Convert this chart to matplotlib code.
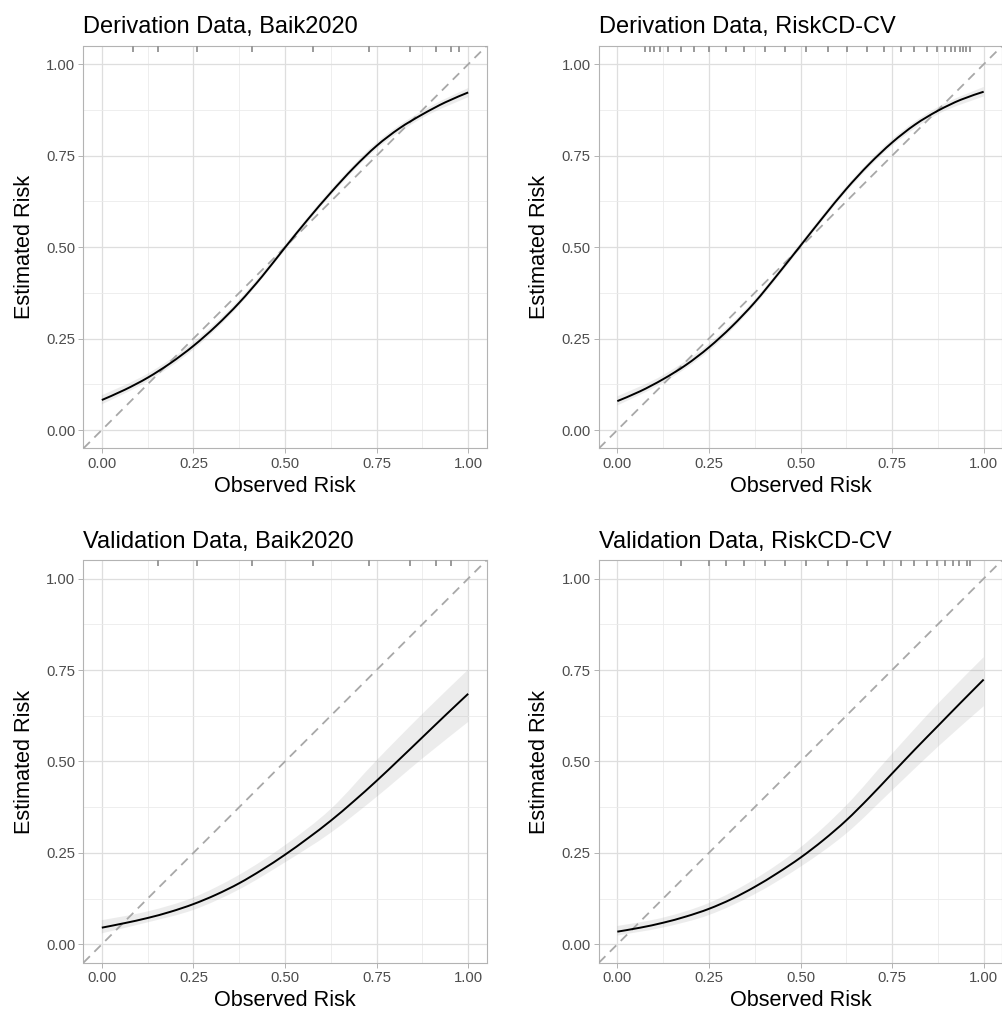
import matplotlib
matplotlib.use("Agg")
import matplotlib.pyplot as plt
import numpy as np
from matplotlib.ticker import MultipleLocator
from matplotlib.path import Path
from matplotlib.patches import PathPatch

plt.rcParams['font.family'] = ['Liberation Sans', 'DejaVu Sans']

titles = ["Derivation Data, Baik2020", "Derivation Data, RiskCD-CV",
          "Validation Data, Baik2020", "Validation Data, RiskCD-CV"]

# curve sampled at x = 0, 1/16, ..., 1
x_curve = [0.0, 0.0625, 0.125, 0.1875, 0.25, 0.3125, 0.375, 0.4375, 0.5,
           0.5625, 0.625, 0.6875, 0.75, 0.8125, 0.875, 0.9375, 1.0]
curve_dl = [0.082, 0.110, 0.143, 0.183, 0.230, 0.285, 0.348, 0.420, 0.499,
            0.576, 0.649, 0.717, 0.777, 0.825, 0.863, 0.896, 0.923]
curve_dr = [0.079, 0.106, 0.139, 0.178, 0.226, 0.283, 0.349, 0.425, 0.504,
            0.583, 0.659, 0.727, 0.786, 0.835, 0.873, 0.903, 0.925]
curve_vl = [0.0455, 0.058, 0.072, 0.089, 0.110, 0.136, 0.167, 0.204, 0.245,
            0.290, 0.338, 0.391, 0.447, 0.506, 0.566, 0.626, 0.685]
curve_vr = [0.0346, 0.0455, 0.059, 0.076, 0.097, 0.124, 0.157, 0.195, 0.237,
            0.285, 0.339, 0.401, 0.467, 0.533, 0.597, 0.661, 0.724]

# confidence band sampled at x = 0, 1/8, ..., 1
x_band = [0.0, 0.125, 0.25, 0.375, 0.5, 0.625, 0.75, 0.875, 1.0]
lo_dl = [0.070, 0.133, 0.220, 0.340, 0.491, 0.641, 0.768, 0.853, 0.910]
hi_dl = [0.095, 0.154, 0.240, 0.357, 0.507, 0.657, 0.786, 0.873, 0.935]
lo_dr = [0.067, 0.129, 0.216, 0.341, 0.496, 0.651, 0.777, 0.863, 0.912]
hi_dr = [0.092, 0.150, 0.236, 0.357, 0.512, 0.667, 0.795, 0.883, 0.938]
lo_vl = [0.030, 0.060, 0.094, 0.150, 0.224, 0.305, 0.403, 0.508, 0.608]
hi_vl = [0.066, 0.090, 0.128, 0.190, 0.271, 0.370, 0.503, 0.630, 0.751]
lo_vr = [0.024, 0.046, 0.080, 0.137, 0.212, 0.303, 0.421, 0.540, 0.651]
hi_vr = [0.050, 0.073, 0.113, 0.178, 0.265, 0.380, 0.521, 0.658, 0.785]

# rug positions (predicted risk values)
rug_baik_der = [0.084, 0.153, 0.259, 0.409, 0.577, 0.730, 0.841, 0.912, 0.952, 0.975]
rug_risk_der = [0.076, 0.089, 0.101, 0.117, 0.139, 0.173, 0.209, 0.250, 0.296,
                0.346, 0.402, 0.458, 0.515, 0.574, 0.628, 0.681, 0.729, 0.773,
                0.811, 0.845, 0.873, 0.895, 0.912, 0.923, 0.935, 0.944, 0.953, 0.964]
rug_baik_val = [0.153, 0.259, 0.409, 0.577, 0.730, 0.841, 0.912, 0.952]
rug_risk_val = [0.173, 0.250, 0.296, 0.346, 0.402, 0.458, 0.515, 0.574, 0.628,
                0.681, 0.729, 0.773, 0.811, 0.845, 0.873, 0.895, 0.916, 0.932,
                0.955, 0.964]

tick_vals = [0.0, 0.25, 0.5, 0.75, 1.0]
tick_labels = ["0.00", "0.25", "0.50", "0.75", "1.00"]

panels = [
    (curve_dl, lo_dl, hi_dl, rug_baik_der),
    (curve_dr, lo_dr, hi_dr, rug_risk_der),
    (curve_vl, lo_vl, hi_vl, rug_baik_val),
    (curve_vr, lo_vr, hi_vr, rug_risk_val),
]


def bezier_pieces(xs, ys):
    """Catmull-Rom curve through the data points, as cubic Bezier segments."""
    P = np.column_stack([xs, ys]).astype(float)
    n = len(P)
    verts = [P[0]]
    for k in range(n - 1):
        p0 = P[max(k - 1, 0)]
        p1 = P[k]
        p2 = P[k + 1]
        p3 = P[min(k + 2, n - 1)]
        verts += [p1 + (p2 - p0) / 6.0, p2 - (p3 - p1) / 6.0, p2]
    return verts


def smooth_path(xs, ys):
    verts = bezier_pieces(xs, ys)
    codes = [Path.MOVETO] + [Path.CURVE4] * (len(verts) - 1)
    return Path(verts, codes)


def band_path(xs, lo, hi):
    up = bezier_pieces(xs, hi)
    dn = bezier_pieces(xs[::-1], lo[::-1])
    verts = up + dn + [up[0]]
    codes = ([Path.MOVETO] + [Path.CURVE4] * (len(up) - 1) +
             [Path.LINETO] + [Path.CURVE4] * (len(dn) - 1) + [Path.CLOSEPOLY])
    return Path(verts, codes)


W, H = 1003, 1017
fig = plt.figure(figsize=(W / 100, H / 100), dpi=100)

lefts = [83.5, 599.0]
tops = [46.0, 560.3]
aw, ah = 403.0, 402.3

for i, (cur, lo, hi, rug) in enumerate(panels):
    col = i % 2
    row = i // 2
    ax = fig.add_axes([lefts[col] / W, 1 - (tops[row] + ah) / H, aw / W, ah / H])
    ax.set_xlim(-0.05, 1.05)
    ax.set_ylim(-0.05, 1.05)
    ax.set_facecolor('white')
    ax.xaxis.set_minor_locator(MultipleLocator(0.125))
    ax.yaxis.set_minor_locator(MultipleLocator(0.125))
    ax.set_xticks(tick_vals)
    ax.set_xticklabels(tick_labels)
    ax.set_yticks(tick_vals)
    ax.set_yticklabels(tick_labels)
    ax.grid(which='major', color='#DEDEDE', linewidth=0.9)
    ax.grid(which='minor', color='#EBEBEB', linewidth=0.6)
    ax.set_axisbelow(True)
    ax.tick_params(which='major', length=3.5, width=0.7, color='#B3B3B3',
                   labelsize=10.7, labelcolor='#4D4D4D', pad=2.5)
    ax.tick_params(which='minor', length=0)
    for s in ax.spines.values():
        s.set_color('#B3B3B3')
        s.set_linewidth(0.8)

    # confidence band
    ax.add_patch(PathPatch(band_path(x_band, lo, hi), facecolor='#999999',
                           alpha=0.18, linewidth=0, zorder=2))
    # diagonal reference line
    ax.plot([-0.05, 1.05], [-0.05, 1.05], color='#A8A8A8', linestyle=(0, (5, 3.5)),
            linewidth=1.3, zorder=3)
    # calibration curve (smooth through the read points)
    ax.add_patch(PathPatch(smooth_path(x_curve, cur), facecolor='none',
                           edgecolor='black', linewidth=1.4, zorder=4,
                           capstyle='butt'))
    # rug at top
    for r in rug:
        ax.plot([r, r], [1.0, 0.986], transform=ax.get_xaxis_transform(),
                color='#9A9A9A', linewidth=1.4, zorder=5, solid_capstyle='butt')

    ax.set_xlabel("Observed Risk", fontsize=15.6, color='black', labelpad=4)
    ax.set_ylabel("Estimated Risk", fontsize=15.6, color='black', labelpad=8)
    ax.set_title(titles[i], fontsize=17, color='black', loc='left', pad=9)

fig.savefig("out.png", dpi=100, facecolor='white')
